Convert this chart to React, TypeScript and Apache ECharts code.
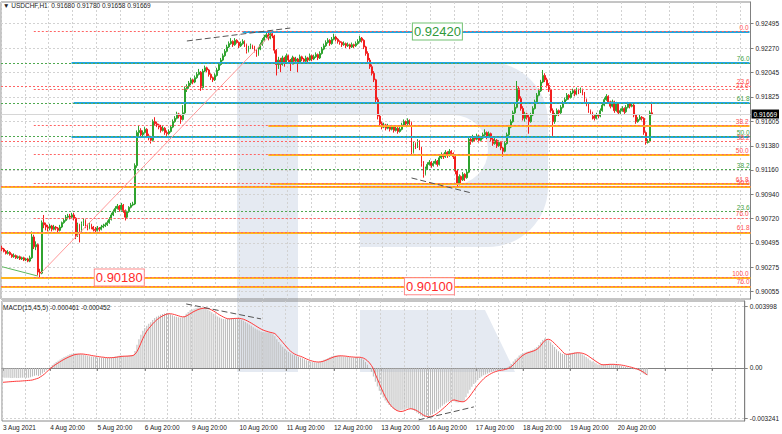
import { useEffect, useRef } from "react";
import * as echarts from "echarts";

const FONT = "Liberation Sans, Arial, sans-serif";
const SLOT_COUNT = 377;
const BARS_PER_LABEL = 24;

const timeLabels = ["3 Aug 2021", "4 Aug 20:00", "5 Aug 20:00", "6 Aug 20:00", "9 Aug 20:00", "10 Aug 20:00", "11 Aug 20:00", "12 Aug 20:00", "13 Aug 20:00", "16 Aug 20:00", "17 Aug 20:00", "18 Aug 20:00", "19 Aug 20:00", "20 Aug 20:00"];
const priceTicks = [0.92495, 0.9227, 0.92045, 0.91825, 0.91605, 0.9138, 0.9116, 0.9094, 0.9072, 0.90495, 0.90275, 0.90055];
const macdTicks = [0.003998, 0, -0.003241];

// USDCHF H1 candles: [open, high, low, close] in units of 0.0001
const ohlc: number[][] = [
  [9045, 9047, 9042, 9044], [9044, 9045, 9041, 9042], [9042, 9043, 9039, 9040], [9040, 9043, 9039, 9041], [9041, 9042, 9038, 9039], [9039, 9040, 9036, 9037], [9037, 9040, 9036, 9038], [9038, 9039, 9035, 9036],
  [9036, 9038, 9035, 9037], [9037, 9038, 9034, 9035], [9035, 9037, 9034, 9036], [9036, 9037, 9033, 9034], [9034, 9036, 9033, 9035], [9035, 9036, 9032, 9033], [9033, 9038, 9032, 9036], [9036, 9060, 9035, 9055],
  [9055, 9057, 9044, 9046], [9046, 9051, 9043, 9048], [9048, 9049, 9020, 9023], [9023, 9026, 9018, 9022], [9022, 9070, 9021, 9068], [9068, 9075, 9063, 9066], [9066, 9068, 9061, 9064], [9064, 9066, 9060, 9063],
  [9063, 9067, 9061, 9065], [9065, 9066, 9060, 9062], [9062, 9066, 9061, 9064], [9064, 9065, 9061, 9063], [9063, 9064, 9059, 9061], [9061, 9066, 9060, 9064], [9064, 9069, 9063, 9068], [9068, 9072, 9067, 9070],
  [9070, 9075, 9069, 9073], [9073, 9076, 9071, 9074], [9074, 9076, 9071, 9073], [9073, 9077, 9072, 9075], [9075, 9077, 9070, 9072], [9072, 9073, 9053, 9056], [9056, 9068, 9055, 9066], [9066, 9067, 9050, 9060],
  [9060, 9069, 9058, 9067], [9067, 9072, 9065, 9070], [9070, 9071, 9063, 9065], [9065, 9067, 9061, 9063], [9063, 9068, 9062, 9066], [9066, 9067, 9062, 9064], [9064, 9065, 9060, 9062], [9062, 9064, 9059, 9061],
  [9061, 9065, 9060, 9063], [9063, 9064, 9060, 9062], [9062, 9066, 9061, 9064], [9064, 9067, 9063, 9065], [9065, 9068, 9064, 9066], [9066, 9070, 9065, 9068], [9068, 9073, 9067, 9071], [9071, 9077, 9070, 9075],
  [9075, 9080, 9074, 9078], [9078, 9083, 9077, 9081], [9081, 9085, 9080, 9083], [9083, 9084, 9078, 9080], [9080, 9086, 9079, 9084], [9084, 9085, 9077, 9079], [9079, 9080, 9070, 9073], [9073, 9079, 9072, 9078],
  [9078, 9083, 9077, 9082], [9082, 9086, 9081, 9084], [9084, 9087, 9083, 9085], [9085, 9122, 9084, 9120], [9120, 9152, 9118, 9150], [9150, 9156, 9147, 9152], [9152, 9154, 9145, 9148], [9148, 9152, 9146, 9150],
  [9150, 9155, 9149, 9153], [9153, 9154, 9145, 9147], [9147, 9149, 9143, 9145], [9145, 9147, 9140, 9143], [9143, 9162, 9142, 9160], [9160, 9164, 9156, 9158], [9158, 9160, 9155, 9157], [9157, 9158, 9153, 9155],
  [9155, 9157, 9150, 9152], [9152, 9156, 9151, 9154], [9154, 9155, 9148, 9150], [9150, 9152, 9147, 9149], [9149, 9153, 9148, 9151], [9151, 9157, 9150, 9155], [9155, 9162, 9154, 9160], [9160, 9165, 9159, 9163],
  [9163, 9169, 9162, 9167], [9167, 9168, 9163, 9165], [9165, 9166, 9158, 9162], [9162, 9175, 9161, 9168], [9168, 9192, 9167, 9190], [9190, 9194, 9187, 9192], [9192, 9197, 9190, 9195], [9195, 9200, 9193, 9198],
  [9198, 9199, 9194, 9196], [9196, 9202, 9195, 9200], [9200, 9205, 9199, 9203], [9203, 9208, 9202, 9205], [9205, 9206, 9188, 9191], [9191, 9208, 9190, 9206], [9206, 9211, 9205, 9209], [9209, 9210, 9205, 9207],
  [9207, 9208, 9201, 9203], [9203, 9204, 9198, 9200], [9200, 9201, 9196, 9198], [9198, 9204, 9197, 9202], [9202, 9209, 9201, 9207], [9207, 9214, 9206, 9212], [9212, 9218, 9211, 9216], [9216, 9222, 9215, 9220],
  [9220, 9226, 9219, 9224], [9224, 9230, 9223, 9228], [9228, 9233, 9227, 9231], [9231, 9236, 9230, 9233], [9233, 9234, 9228, 9230], [9230, 9236, 9229, 9234], [9234, 9235, 9231, 9232], [9232, 9233, 9227, 9229],
  [9229, 9233, 9228, 9231], [9231, 9235, 9230, 9233], [9233, 9234, 9228, 9230], [9230, 9231, 9222, 9224], [9224, 9229, 9223, 9227], [9227, 9231, 9226, 9229], [9229, 9230, 9226, 9228], [9228, 9229, 9223, 9225],
  [9225, 9226, 9219, 9221], [9221, 9228, 9220, 9226], [9226, 9232, 9225, 9230], [9230, 9236, 9229, 9234], [9234, 9239, 9233, 9237], [9237, 9242, 9236, 9239], [9239, 9241, 9234, 9236], [9236, 9242, 9235, 9240],
  [9240, 9242, 9236, 9238], [9238, 9239, 9222, 9225], [9225, 9226, 9202, 9212], [9212, 9219, 9208, 9216], [9216, 9218, 9205, 9212], [9212, 9220, 9211, 9218], [9218, 9219, 9210, 9214], [9214, 9222, 9213, 9220],
  [9220, 9221, 9214, 9216], [9216, 9217, 9206, 9213], [9213, 9220, 9212, 9218], [9218, 9219, 9212, 9215], [9215, 9219, 9214, 9217], [9217, 9218, 9205, 9214], [9214, 9221, 9213, 9219], [9219, 9220, 9215, 9217],
  [9217, 9218, 9213, 9215], [9215, 9220, 9214, 9218], [9218, 9219, 9214, 9216], [9216, 9222, 9215, 9220], [9220, 9221, 9215, 9217], [9217, 9221, 9216, 9219], [9219, 9223, 9218, 9221], [9221, 9222, 9216, 9218],
  [9218, 9224, 9217, 9222], [9222, 9228, 9221, 9226], [9226, 9231, 9225, 9229], [9229, 9234, 9228, 9232], [9232, 9236, 9231, 9234], [9234, 9235, 9229, 9231], [9231, 9237, 9230, 9235], [9235, 9240, 9234, 9237],
  [9237, 9238, 9233, 9235], [9235, 9236, 9231, 9233], [9233, 9234, 9230, 9232], [9232, 9233, 9228, 9230], [9230, 9233, 9229, 9231], [9231, 9232, 9227, 9229], [9229, 9232, 9228, 9230], [9230, 9231, 9226, 9228],
  [9228, 9232, 9227, 9230], [9230, 9231, 9227, 9229], [9229, 9233, 9228, 9231], [9231, 9235, 9230, 9233], [9233, 9238, 9232, 9236], [9236, 9237, 9232, 9234], [9234, 9235, 9226, 9228], [9228, 9229, 9220, 9222],
  [9222, 9224, 9214, 9216], [9216, 9218, 9208, 9210], [9210, 9212, 9202, 9204], [9204, 9206, 9196, 9198], [9198, 9199, 9176, 9180], [9180, 9182, 9162, 9165], [9165, 9167, 9156, 9158], [9158, 9160, 9153, 9155],
  [9155, 9159, 9154, 9157], [9157, 9158, 9152, 9154], [9154, 9158, 9153, 9156], [9156, 9157, 9151, 9153], [9153, 9157, 9152, 9155], [9155, 9156, 9150, 9152], [9152, 9156, 9151, 9154], [9154, 9155, 9149, 9151],
  [9151, 9155, 9150, 9153], [9153, 9159, 9152, 9157], [9157, 9162, 9156, 9160], [9160, 9161, 9156, 9158], [9158, 9163, 9157, 9161], [9161, 9162, 9157, 9159], [9159, 9160, 9129, 9132], [9132, 9142, 9131, 9140],
  [9140, 9141, 9135, 9137], [9137, 9144, 9136, 9142], [9142, 9143, 9134, 9136], [9136, 9137, 9119, 9122], [9122, 9124, 9109, 9112], [9112, 9119, 9111, 9117], [9117, 9123, 9116, 9121], [9121, 9125, 9120, 9123],
  [9123, 9124, 9118, 9120], [9120, 9124, 9119, 9122], [9122, 9126, 9121, 9124], [9124, 9125, 9119, 9121], [9121, 9129, 9120, 9127], [9127, 9132, 9126, 9130], [9130, 9131, 9126, 9128], [9128, 9134, 9127, 9132],
  [9132, 9133, 9127, 9129], [9129, 9135, 9128, 9133], [9133, 9134, 9129, 9131], [9131, 9132, 9126, 9128], [9128, 9129, 9112, 9115], [9115, 9116, 9100, 9104], [9104, 9112, 9102, 9110], [9110, 9111, 9104, 9107],
  [9107, 9114, 9106, 9112], [9112, 9113, 9106, 9109], [9109, 9116, 9108, 9114], [9114, 9146, 9113, 9144], [9144, 9145, 9139, 9142], [9142, 9148, 9141, 9146], [9146, 9147, 9142, 9144], [9144, 9149, 9143, 9147],
  [9147, 9148, 9141, 9143], [9143, 9147, 9142, 9145], [9145, 9150, 9144, 9148], [9148, 9153, 9147, 9150], [9150, 9151, 9144, 9146], [9146, 9151, 9145, 9149], [9149, 9150, 9142, 9144], [9144, 9145, 9138, 9140],
  [9140, 9145, 9139, 9143], [9143, 9144, 9136, 9138], [9138, 9143, 9137, 9141], [9141, 9142, 9134, 9136], [9136, 9137, 9128, 9133], [9133, 9142, 9132, 9140], [9140, 9150, 9139, 9148], [9148, 9157, 9147, 9155],
  [9155, 9162, 9154, 9160], [9160, 9170, 9159, 9168], [9168, 9176, 9167, 9173], [9173, 9197, 9172, 9190], [9190, 9192, 9179, 9181], [9181, 9183, 9170, 9172], [9172, 9174, 9161, 9163], [9163, 9169, 9160, 9167],
  [9167, 9168, 9162, 9164], [9164, 9166, 9149, 9160], [9160, 9168, 9159, 9166], [9166, 9174, 9165, 9172], [9172, 9180, 9171, 9178], [9178, 9186, 9177, 9184], [9184, 9190, 9183, 9188], [9188, 9198, 9187, 9196],
  [9196, 9207, 9195, 9202], [9202, 9204, 9196, 9198], [9198, 9200, 9191, 9193], [9193, 9195, 9187, 9189], [9189, 9190, 9168, 9170], [9170, 9172, 9147, 9160], [9160, 9168, 9158, 9166], [9166, 9172, 9165, 9170],
  [9170, 9171, 9165, 9168], [9168, 9175, 9167, 9173], [9173, 9179, 9172, 9177], [9177, 9182, 9176, 9180], [9180, 9186, 9179, 9184], [9184, 9185, 9180, 9182], [9182, 9188, 9181, 9186], [9186, 9190, 9185, 9188],
  [9188, 9189, 9183, 9185], [9185, 9191, 9184, 9189], [9189, 9190, 9185, 9187], [9187, 9191, 9186, 9189], [9189, 9190, 9184, 9186], [9186, 9187, 9178, 9180], [9180, 9181, 9174, 9176], [9176, 9177, 9168, 9170],
  [9170, 9171, 9166, 9168], [9168, 9169, 9162, 9165], [9165, 9166, 9161, 9163], [9163, 9168, 9162, 9166], [9166, 9167, 9163, 9165], [9165, 9172, 9164, 9170], [9170, 9177, 9169, 9175], [9175, 9182, 9174, 9180],
  [9180, 9185, 9179, 9183], [9183, 9184, 9176, 9178], [9178, 9179, 9172, 9174], [9174, 9180, 9173, 9178], [9178, 9179, 9168, 9170], [9170, 9178, 9169, 9176], [9176, 9177, 9166, 9168], [9168, 9172, 9167, 9170],
  [9170, 9174, 9169, 9172], [9172, 9173, 9167, 9169], [9169, 9175, 9168, 9173], [9173, 9178, 9172, 9176], [9176, 9177, 9172, 9174], [9174, 9177, 9173, 9175], [9175, 9176, 9164, 9166], [9166, 9167, 9158, 9160],
  [9160, 9164, 9159, 9162], [9162, 9166, 9161, 9164], [9164, 9165, 9161, 9163], [9163, 9164, 9148, 9150], [9150, 9151, 9139, 9141], [9141, 9144, 9140, 9142], [9142, 9170, 9141, 9168], [9168.0, 9178.0, 9165.8, 9166.9],
];

// MACD(15,45,5) main (histogram) and signal, in units of 0.00001
const macdMain = [
  -62, -63, -64, -63, -65, -66, -64, -65, -66, -64, -63, -62, -64, -63, -61,
  -55, -50, -47, -52, -48, -36, -26, -15,
  -5, 6, 18, 28, 38, 46, 54, 62, 70, 76, 82, 88, 92, 95, 94, 92,
  90, 88, 85, 82, 79, 76, 74, 72, 70, 68, 67, 66, 65, 64, 64, 65,
  67, 70, 73, 76, 78, 80, 79, 77, 78, 80, 82, 84,
  110, 150, 185, 215, 240, 258, 272,
  285, 295, 310, 322, 330, 337, 343, 348, 352, 355,
  352, 346, 340, 334, 330, 327, 325, 326, 335, 350,
  362, 372, 378, 382, 386, 390, 388, 392, 390, 385,
  378, 370, 360, 350, 340, 332, 325, 320, 316, 314,
  318, 320, 322, 323, 322, 320, 318,
  312, 305, 296, 288, 280, 272, 263, 255, 248, 242, 236, 232, 230,
  228, 226, 224, 218, 205,
  185, 168, 152, 137, 124, 112, 102, 94, 87, 81, 76, 72,
  68, 62, 56, 50, 45, 41, 38, 36, 35, 36, 40, 46, 52,
  58, 64, 70, 75, 78, 80, 79, 78,
  76, 74, 72, 70, 69, 68, 68, 69, 70, 68,
  62, 52, 38, 20, 0, -25, -55, -90, -120, -148, -172, -192, -210, -226,
  -240, -252, -262, -270, -275,
  -276, -274, -270, -265, -262, -262, -266, -270,
  -278, -288, -298, -308, -314, -318, -316, -312, -306, -300,
  -290, -280, -268, -256, -245, -235, -226, -218, -212, -210,
  -215, -222, -224, -222, -218, -212, -190,
  -165, -142, -122, -104, -90, -78, -66, -56, -48, -42,
  -36, -30, -25, -20, -17, -15, -14, -12, -8, -3, 3, 12,
  25, 42, 56, 66, 80, 88, 95, 100,
  104, 108, 112, 118, 125, 135, 148,
  165, 180, 190, 186, 178,
  165, 150, 135, 120, 108, 98, 90, 86,
  88, 92, 95, 98, 100, 100, 98, 94, 88, 80,
  70, 60, 50, 42, 35, 30, 22, 20, 19,
  22, 24, 25, 24, 23, 22, 20, 18,
  15, 12, 9, 6, 3, 0, -4, -8, -11, -14, -18, -28, -36, -42, -46.1,
];
const macdSignal = [
  -93, -92, -91, -90, -89, -88, -87, -86, -86, -85, -84, -83, -82, -81, -80,
  -78, -74, -70, -66, -58, -50, -40, -28,
  -16, -5, 6, 15, 24, 32, 40, 48, 55, 62, 68, 74, 79, 84, 87, 89,
  90, 90, 89, 87, 85, 83, 80, 78, 76, 74, 72, 70, 69, 67, 66, 66,
  66, 67, 68, 70, 72, 74, 75, 76, 76, 77, 78, 80,
  88, 105, 130, 160, 190, 215, 238,
  255, 270, 285, 298, 310, 320, 328, 336, 342, 347,
  350, 350, 348, 345, 341, 337, 333, 330, 330, 335,
  342, 350, 358, 365, 371, 377, 381, 384, 386, 386,
  384, 380, 374, 367, 359, 350, 342, 335, 328, 322,
  318, 317, 318, 319, 320, 320, 320,
  318, 315, 310, 304, 297, 290, 282, 274, 266, 258, 251, 245, 240,
  236, 232, 229, 226, 222,
  210, 195, 180, 165, 150, 135, 120, 108, 98, 90, 84, 79,
  75, 70, 64, 58, 53, 48, 44, 41, 39, 38, 39, 41, 45,
  50, 55, 61, 66, 71, 74, 77, 78,
  78, 77, 76, 74, 72, 71, 70, 69, 69, 69,
  67, 63, 56, 46, 33, 16, -5, -40, -70, -100, -130, -158, -185, -208,
  -228, -245, -258, -268, -276,
  -280, -282, -280, -276, -270, -266, -264, -266,
  -270, -276, -284, -292, -302, -309, -314, -316, -315, -311,
  -305, -297, -288, -278, -267, -256, -245, -232, -220, -210,
  -207, -210, -214, -217, -219, -218, -210,
  -198, -182, -164, -146, -128, -112, -97, -83, -70, -59,
  -50, -42, -35, -29, -24, -20, -17, -15, -13, -10, -6, 0,
  8, 20, 34, 48, 60, 72, 82, 90,
  96, 100, 104, 108, 113, 120, 130,
  145, 162, 176, 184, 185,
  180, 170, 158, 145, 132, 120, 106, 92,
  88, 88, 90, 92, 95, 97, 98, 97, 95, 91,
  86, 78, 69, 60, 51, 42, 34, 26, 21,
  20, 21, 22, 23, 23, 23, 22, 21,
  20, 18, 16, 13, 10, 7, 4, 0, -4, -8, -13, -20, -27, -36, -45.2,
];

// Horizontal levels drawn on the chart
const blueLevels = [0.9242, 0.92134, 0.91769, 0.91463];
const blueStartBars = [121, 35, 36, 35];
const orangeLevels = [0.91563, 0.913, 0.91036, 0.91007, 0.90592, 0.9018, 0.901];
const orangeStartBars = [134, 134, 135, 0, 0, 0, 0];
const fibAStartBar = 16;
const fibAPrices = [0.9242, 0.91891, 0.91564, 0.913, 0.91036, 0.90718, 0.9018];
const fibALabels = ["0.0", "23.6", "38.2", "50.0", "61.8", "76.0", "100.0"];
const fibBPrices = [0.91925, 0.91418, 0.91007, 0.90592, 0.901];
const fibBLabels = ["23.6", "38.2", "50.0", "61.8", "76.0"];
const fibGPrices = [0.92134, 0.91769, 0.91463, 0.91162, 0.9078];
const fibGLabels = ["76.0", "61.8", "50.0", "38.2", "23.6"];

// Trend lines [bar1, value1, bar2, value2]
const grayTrendsMain = [[93, 0.92334, 145, 0.92452], [206, 0.91087, 236, 0.90951]];
const greenTrendMain = [[0, 0.90279, 18, 0.90194]];
const pinkTrendMain = [[19, 0.9021, 135, 0.9239]];
const grayTrendsMacd = [[93, 0.004134, 131, 0.003165], [211, -0.00336, 239, -0.00252]];

// Price tags
const tagPrices = [0.9242, 0.9018, 0.901];
const tagBars = [219, 59, 215];
const tagKinds = ["green", "red", "red"];

const PRICE_MIN = 0.89985;
const PRICE_MAX = 0.92689;
const MACD_MIN = -0.003432;
const MACD_MAX = 0.004324;

const GRID_LINE = { color: "#d2d2d2", type: [2, 2] as number[], width: 1 };
const RED = "#ff4f4f";
const GREEN = "#3f9f3f";
const LOGO = "#e5eaf2";

function buildOption() {
  const slots = Array.from({ length: SLOT_COUNT }, (_, i) => String(i));
  const lastBar = SLOT_COUNT - 1;
  const candleData = ohlc.map((r) => [r[0] / 1e4, r[3] / 1e4, r[2] / 1e4, r[1] / 1e4]);
  const last = ohlc[ohlc.length - 1];
  const header = `\u25BC USDCHF,H1  ${(last[0] / 1e4).toFixed(5)} ${(last[1] / 1e4).toFixed(5)} ${(last[2] / 1e4).toFixed(5)} ${(last[3] / 1e4).toFixed(5)}`;
  const macdTitle = `MACD(15,45,5) ${(macdMain[macdMain.length - 1] * 1e-5).toFixed(6)} ${(macdSignal[macdSignal.length - 1] * 1e-5).toFixed(6)}`;
  const lastClose = last[3] / 1e4;

  const smallLabel = (text: string, color: string) => ({
    show: true,
    position: "insideEndTop",
    formatter: text,
    color,
    fontSize: 6.5,
    fontFamily: FONT,
    distance: [1, 1],
  });
  const noLabel = { show: false };
  const seg = (startBar: number, price: number, lineStyle: any, label: any) =>
    startBar <= 0
      ? { yAxis: price, lineStyle, label }
      : [{ coord: [startBar, price], lineStyle, label }, { coord: [lastBar, price] }];

  const blueStyle = { color: "#22a6de", width: 2, type: "solid" };
  const orangeStyle = { color: "#ffb41e", width: 2, type: "solid" };
  const redDot = { color: "#ff6464", width: 1, type: [2, 2] };
  const greenDot = { color: "#4fa84f", width: 1, type: [2, 2] };

  const solidLevels: any[] = [];
  blueLevels.forEach((p, k) => solidLevels.push(seg(blueStartBars[k], p, blueStyle, noLabel)));
  orangeLevels.forEach((p, k) => solidLevels.push(seg(orangeStartBars[k], p, orangeStyle, noLabel)));

  const fibLines: any[] = [];
  fibGPrices.forEach((p, k) => fibLines.push(seg(0, p, greenDot, smallLabel(fibGLabels[k], GREEN))));
  fibBPrices.forEach((p, k) => fibLines.push(seg(0, p, redDot, smallLabel(fibBLabels[k], RED))));
  fibAPrices.forEach((p, k) => fibLines.push(seg(fibAStartBar, p, redDot, smallLabel(fibALabels[k], RED))));

  const trendPair = (t: number[], lineStyle: any) => [
    { coord: [t[0], t[1]], lineStyle, label: noLabel },
    { coord: [t[2], t[3]] },
  ];
  const grayDash = { color: "#555", width: 1, type: [6, 3] };
  const mainTrends = [
    ...grayTrendsMain.map((t) => trendPair(t, grayDash)),
    ...greenTrendMain.map((t) => trendPair(t, { color: "#5cb85c", width: 1, type: "solid" })),
    ...pinkTrendMain.map((t) => trendPair(t, { color: "#ff9a9a", width: 1, type: "solid" })),
  ];
  const macdTrends = grayTrendsMacd.map((t) => trendPair(t, grayDash));

  const markBase = { symbol: "none", silent: true, animation: false, precision: 5 };

  return {
    animation: false,
    backgroundColor: "#ffffff",
    textStyle: { fontFamily: FONT },
    grid: [
      { left: 1, top: 2, width: 751, height: 297, show: true, borderColor: "#8a8a8a", borderWidth: 1, backgroundColor: "transparent" },
      { left: 1, top: 301, width: 751, height: 120, show: true, borderColor: "#8a8a8a", borderWidth: 1, backgroundColor: "transparent" },
    ],
    xAxis: [
      {
        type: "category", gridIndex: 0, data: slots, boundaryGap: true,
        axisLine: { show: false }, axisTick: { show: false }, axisLabel: { show: false },
        splitLine: { show: true, interval: (i: number) => i % 12 === 0, lineStyle: GRID_LINE },
      },
      {
        type: "category", gridIndex: 1, data: slots, boundaryGap: true,
        axisLine: { show: true, lineStyle: { color: "#808080" } },
        axisTick: { show: true, interval: (i: number) => i % BARS_PER_LABEL === 0, length: 3, alignWithLabel: true, lineStyle: { color: "#808080" } },
        axisLabel: {
          show: true,
          interval: (i: number) => i % BARS_PER_LABEL === 0,
          formatter: (v: string) => {
            const i = Number(v);
            const k = i / BARS_PER_LABEL;
            return i % BARS_PER_LABEL === 0 && k < timeLabels.length ? timeLabels[k] : "";
          },
          align: "left", fontSize: 6.5, fontFamily: FONT, color: "#222", margin: 3,
        },
        splitLine: { show: true, interval: (i: number) => i % 12 === 0, lineStyle: GRID_LINE },
      },
    ],
    yAxis: [
      {
        type: "value", gridIndex: 0, position: "right", min: PRICE_MIN, max: PRICE_MAX,
        axisLine: { show: true, lineStyle: { color: "#808080" } },
        axisTick: { show: true, customValues: priceTicks, length: 3, lineStyle: { color: "#808080" } },
        axisLabel: { show: true, customValues: priceTicks, formatter: (v: number) => v.toFixed(5), fontSize: 6.5, fontFamily: FONT, color: "#222", margin: 5 },
        splitLine: { show: true, lineStyle: GRID_LINE },
      },
      {
        type: "value", gridIndex: 1, position: "right", min: MACD_MIN, max: MACD_MAX,
        axisLine: { show: true, lineStyle: { color: "#808080" } },
        axisTick: { show: true, customValues: macdTicks, length: 3, lineStyle: { color: "#808080" } },
        axisLabel: { show: true, customValues: macdTicks, formatter: (v: number) => (v === 0 ? "0.00" : v.toFixed(6)), fontSize: 6.5, fontFamily: FONT, color: "#222", margin: 5 },
        splitLine: { show: true, lineStyle: GRID_LINE },
      },
    ],
    graphic: {
      elements: [
        { type: "rect", z: -10, silent: true, shape: { x: 237, y: 62, width: 311, height: 185, r: [0, 60, 60, 0] }, style: { fill: LOGO } },
        { type: "rect", z: -10, silent: true, shape: { x: 237, y: 62, width: 61, height: 310 }, style: { fill: LOGO } },
        { type: "polygon", z: -10, silent: true, shape: { points: [[360, 310], [485, 310], [515, 372], [360, 372]] }, style: { fill: LOGO } },
        { type: "rect", z: -9, silent: true, shape: { x: 298, y: 115, width: 190, height: 70, r: [0, 35, 35, 0] }, style: { fill: "#ffffff" } },
        { type: "rect", z: -9, silent: true, shape: { x: 298, y: 185, width: 62, height: 62 }, style: { fill: "#ffffff" } },
        { type: "text", left: 3, top: 2, z: 10, style: { text: header, fontSize: 6.5, fontFamily: FONT, fill: "#222" } },
        { type: "text", left: 3, top: 304, z: 10, style: { text: macdTitle, fontSize: 6.5, fontFamily: FONT, fill: "#222" } },
      ],
    },
    series: [
      {
        type: "line", xAxisIndex: 0, yAxisIndex: 0, data: [], z: 1,
        markLine: { ...markBase, data: solidLevels },
      },
      {
        type: "line", xAxisIndex: 0, yAxisIndex: 0, data: [], z: 1,
        markLine: { ...markBase, data: fibLines },
      },
      {
        type: "line", xAxisIndex: 0, yAxisIndex: 0, data: [], z: 1,
        markLine: {
          ...markBase,
          data: [{
            yAxis: lastClose,
            lineStyle: { color: "#d6d6d6", width: 1, type: "solid" },
            label: { show: true, position: "end", formatter: lastClose.toFixed(5), backgroundColor: "#000", color: "#fff", fontSize: 6.5, fontFamily: FONT, padding: [1, 2, 1, 2], distance: 1 },
          }],
        },
      },
      {
        type: "candlestick", xAxisIndex: 0, yAxisIndex: 0, data: candleData, z: 2,
        barWidth: 1.4,
        itemStyle: { color: "#2fa32f", color0: "#f21f1f", borderColor: "#2fa32f", borderColor0: "#f21f1f", borderWidth: 1 },
      },
      {
        type: "line", xAxisIndex: 0, yAxisIndex: 0, data: [], z: 3,
        markLine: { ...markBase, data: mainTrends },
      },
      {
        type: "line", xAxisIndex: 0, yAxisIndex: 0, data: [], z: 4,
        markPoint: {
          symbol: "rect", symbolSize: 1, silent: true, animation: false,
          itemStyle: { color: "rgba(0,0,0,0)" },
          data: tagPrices.map((p, k) => ({
            coord: [tagBars[k], p],
            label: {
              show: true, position: "inside", formatter: p.toFixed(5), fontSize: 13, lineHeight: 14, fontFamily: FONT,
              color: tagKinds[k] === "green" ? "#2f9a3a" : "#ff2a2a",
              backgroundColor: "#ffffff",
              borderColor: tagKinds[k] === "green" ? "#72c272" : "#ff8a8a",
              borderWidth: 1, padding: [1, 1, 1, 1],
            },
          })),
        },
      },
      {
        type: "bar", xAxisIndex: 1, yAxisIndex: 1, data: macdMain.map((v) => v * 1e-5), z: 2,
        barWidth: 1, itemStyle: { color: "#b9b9b9" },
      },
      {
        type: "line", xAxisIndex: 1, yAxisIndex: 1, data: macdSignal.map((v) => v * 1e-5), z: 3,
        symbol: "none", lineStyle: { color: "#ff3a3a", width: 1 },
      },
      {
        type: "line", xAxisIndex: 1, yAxisIndex: 1, data: [], z: 3,
        markLine: { ...markBase, data: macdTrends },
      },
    ],
  };
}

export default function App() {
  const ref = useRef<HTMLDivElement>(null);
  useEffect(() => {
    if (!ref.current) return;
    const chart = echarts.init(ref.current, undefined, { renderer: "svg" });
    chart.setOption(buildOption() as any);
    return () => chart.dispose();
  }, []);
  return <div ref={ref} style={{ position: "fixed", left: 0, top: 0, width: 782, height: 434, background: "#fff" }} />;
}
